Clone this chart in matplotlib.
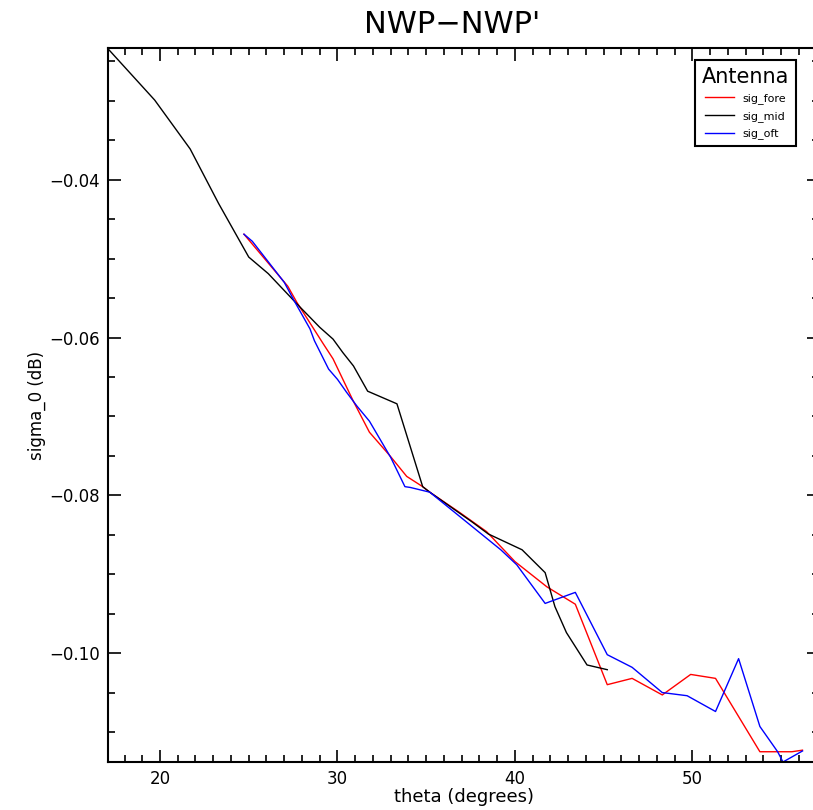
import matplotlib
matplotlib.use("Agg")
import matplotlib.pyplot as plt
from matplotlib.ticker import MultipleLocator, FuncFormatter

# theta (degrees) / sigma_0 difference (dB)
mid_theta = [17.03, 19.7, 21.7, 23.3, 25.0, 26.1, 27.7, 29.0, 29.75, 30.3, 30.9, 31.7,
             33.35, 34.8, 35.2, 37.6, 38.5, 40.4, 41.7, 42.25, 42.9, 44.06, 45.2]
mid_sig = [-0.0233, -0.0299, -0.0361, -0.0430, -0.0498, -0.0519, -0.0557, -0.0587, -0.0602,
           -0.0619, -0.0636, -0.0668, -0.0684, -0.0789, -0.0796, -0.0834, -0.0849, -0.0869,
           -0.0898, -0.0941, -0.0974, -0.1015, -0.1021]

fore_theta = [24.73, 27.2, 27.7, 29.2, 29.75, 30.9, 31.8, 32.96, 33.9, 34.8, 35.2, 36.9,
              38.4, 40.0, 41.8, 43.4, 45.2, 46.6, 48.3, 49.9, 51.3, 53.8, 55.6, 56.2]
fore_sig = [-0.0469, -0.0535, -0.0555, -0.0608, -0.0627, -0.0681, -0.0720, -0.0750, -0.0776,
            -0.0789, -0.0796, -0.0822, -0.0846, -0.0884, -0.0916, -0.0938, -0.1040, -0.1032,
            -0.1053, -0.1027, -0.1032, -0.1125, -0.1125, -0.1123]

oft_theta = [24.73, 25.2, 27.0, 27.6, 28.45, 28.7, 29.5, 30.0, 30.5, 31.1, 31.8, 33.0, 33.8,
             34.1, 35.2, 39.2, 40.1, 41.7, 43.4, 45.2, 46.6, 48.3, 49.7, 51.3, 52.6, 53.8,
             54.8, 55.1, 56.2]
oft_sig = [-0.0469, -0.0478, -0.0530, -0.0555, -0.0589, -0.0604, -0.0640, -0.0653, -0.0669,
           -0.0687, -0.0706, -0.0752, -0.0789, -0.0790, -0.0796, -0.0869, -0.0888, -0.0937,
           -0.0923, -0.1002, -0.1018, -0.1050, -0.1054, -0.1074, -0.1007, -0.1093, -0.1125,
           -0.1138, -0.1124]

fig = plt.figure(figsize=(8.13, 8.10), dpi=100)
ax = fig.add_axes([108 / 813, 1 - 762 / 810, (819 - 108) / 813, (762 - 48) / 810])

ax.plot(fore_theta, fore_sig, color="red", lw=1.0, label="sig_fore")
ax.plot(mid_theta, mid_sig, color="black", lw=1.0, label="sig_mid")
ax.plot(oft_theta, oft_sig, color="blue", lw=1.0, label="sig_oft")

ax.set_xlim(17.07, 57.13)
ax.set_ylim(-0.1138, -0.0233)

ax.xaxis.set_major_locator(MultipleLocator(10))
ax.xaxis.set_minor_locator(MultipleLocator(1))
ax.yaxis.set_major_locator(MultipleLocator(0.02))
ax.yaxis.set_minor_locator(MultipleLocator(0.005))
ax.yaxis.set_major_formatter(FuncFormatter(lambda v, p: "\u2212%.2f" % abs(v)))

ax.tick_params(which="both", direction="in", top=True, right=True, labelsize=12, width=1.2)
ax.tick_params(which="major", length=9)
ax.tick_params(which="minor", length=5)
ax.tick_params(axis="x", pad=6)
ax.tick_params(axis="y", pad=6)
for s in ax.spines.values():
    s.set_linewidth(1.5)

ax.set_xlabel("theta (degrees)", fontsize=13, labelpad=0)
ax.set_ylabel("sigma_0 (dB)", fontsize=12, labelpad=2)
fig.text(0.556, 0.988, "NWP\u2212NWP'", ha="center", va="top", fontsize=22)

leg = ax.legend(title="Antenna", loc="upper left", bbox_to_anchor=(695 / 813, 1 - 60 / 810),
                bbox_transform=fig.transFigure, borderaxespad=0, fontsize=8,
                title_fontsize=15, fancybox=False, framealpha=1, edgecolor="black",
                handlelength=2.6, borderpad=0.6, labelspacing=0.6)
leg.get_frame().set_linewidth(1.5)

fig.savefig("out.png", dpi=100)
